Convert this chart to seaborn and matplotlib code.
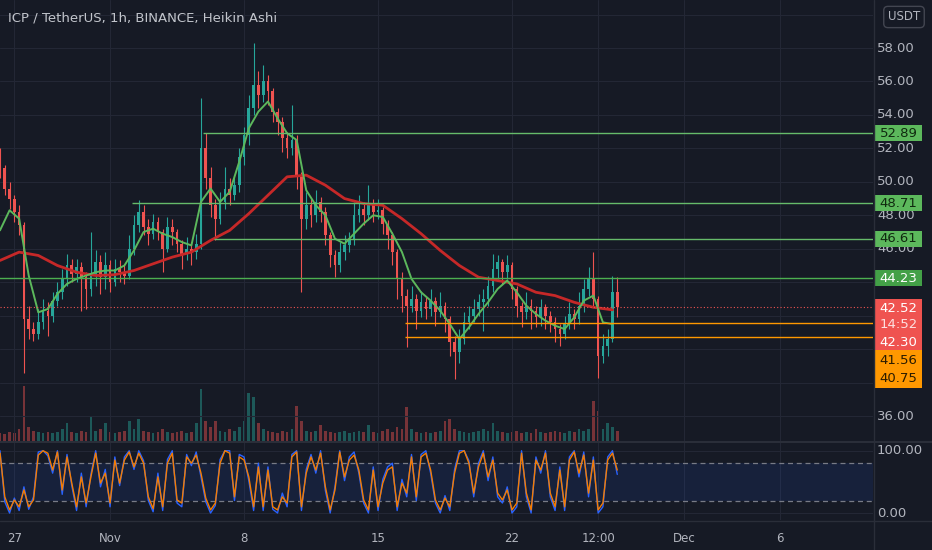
import numpy as np
import pandas as pd
import matplotlib
matplotlib.use("Agg")
import matplotlib.pyplot as plt
import matplotlib.dates as mdates
from matplotlib.patches import Rectangle
import seaborn as sns

# ICP/USDT Heikin Ashi, 6h bars
first_bar = "2021-10-26 06:00"
first_open = 51.6
close = [50.8, 49.6, 49.0, 48.2, 47.4, 41.8, 41.2, 40.9, 41.6, 42.3,
         42.0, 42.9, 43.4, 44.2, 45.0, 44.5, 44.9, 44.3, 43.6, 44.4,
         45.2, 44.3, 45.0, 44.0, 44.8, 44.6, 44.4, 46.0, 47.4, 48.2,
         47.3, 46.9, 47.6, 47.0, 46.0, 47.3, 47.0, 46.3, 45.7, 46.0,
         45.8, 46.3, 52.0, 50.2, 48.6, 47.8, 48.8, 49.6, 49.2, 49.8,
         51.5, 52.8, 54.4, 55.8, 55.2, 56.0, 55.4, 54.2, 53.6, 52.6,
         52.0, 52.5, 50.4, 47.8, 48.6, 48.0, 48.8, 48.2, 46.8, 45.6,
         45.0, 45.8, 46.2, 46.5, 48.0, 48.4, 48.0, 48.6, 48.2, 48.3,
         47.5, 46.8, 45.8, 44.2, 43.2, 42.6, 43.0, 42.3, 42.8, 42.4,
         42.9, 42.2, 42.6, 41.8, 40.4, 39.8, 40.6, 41.6, 42.0, 42.4,
         42.8, 43.0, 43.8, 44.8, 45.2, 44.6, 45.0, 43.6, 42.6, 42.2,
         42.6, 42.3, 41.9, 42.5, 42.0, 41.6, 41.2, 40.9, 41.5, 42.1,
         41.8, 42.6, 43.6, 44.2, 43.0, 39.6, 40.2, 40.6, 43.4, 42.5]
high = [52.0, 51.0, 50.0, 49.2, 48.6, 47.6, 42.6, 41.6, 42.4, 43.0,
        42.8, 43.4, 44.0, 44.8, 45.7, 45.4, 45.4, 45.2, 44.6, 47.0,
        45.9, 45.6, 45.8, 45.3, 45.4, 45.3, 45.0, 46.8, 48.0, 48.9,
        48.6, 47.8, 48.1, 47.9, 47.2, 47.9, 47.8, 47.2, 46.5, 46.7,
        46.4, 46.9, 55.0, 52.9, 50.9, 49.0, 49.4, 50.9, 50.2, 50.4,
        52.0, 53.3, 55.2, 58.3, 56.6, 57.0, 56.4, 55.6, 54.4, 53.9,
        53.0, 54.6, 52.8, 50.6, 49.4, 49.0, 49.5, 49.1, 48.5, 47.0,
        45.9, 46.4, 46.8, 47.0, 48.8, 49.2, 48.8, 49.8, 49.0, 49.0,
        48.5, 47.7, 47.0, 46.0, 44.6, 43.6, 43.8, 43.3, 43.5, 43.2,
        43.6, 43.1, 43.4, 42.8, 42.0, 40.8, 41.2, 42.2, 42.6, 43.0,
        43.3, 43.6, 44.4, 45.7, 45.6, 45.4, 45.6, 45.2, 43.8, 42.8,
        43.4, 43.0, 42.6, 43.0, 42.7, 42.3, 41.9, 41.5, 42.0, 42.8,
        42.4, 43.4, 44.2, 44.9, 45.8, 43.2, 40.9, 41.2, 44.4, 44.3]
low = [50.2, 49.2, 48.4, 47.6, 46.8, 38.6, 40.6, 40.5, 40.6, 41.2,
       40.8, 41.6, 42.6, 43.0, 43.8, 44.0, 44.0, 42.3, 42.4, 43.2,
       43.8, 43.3, 43.6, 43.4, 43.8, 44.0, 43.9, 44.2, 45.6, 47.0,
       46.8, 46.2, 46.6, 46.5, 44.6, 45.8, 46.2, 45.8, 44.8, 45.3,
       45.0, 45.4, 46.0, 49.6, 47.9, 46.5, 47.5, 48.4, 48.6, 48.9,
       49.4, 51.0, 52.2, 54.0, 54.4, 54.8, 54.6, 53.6, 52.8, 51.8,
       51.4, 51.6, 49.6, 43.4, 47.2, 47.3, 47.6, 47.6, 46.2, 44.9,
       44.3, 44.6, 45.3, 45.8, 46.2, 47.6, 47.4, 47.7, 47.6, 47.8,
       46.9, 46.0, 45.0, 43.0, 42.2, 40.1, 42.2, 41.2, 41.9, 41.8,
       42.0, 41.4, 41.9, 41.0, 39.6, 38.2, 39.2, 40.3, 41.2, 41.6,
       42.0, 41.1, 42.6, 43.4, 44.2, 43.9, 44.2, 43.0, 41.9, 41.3,
       41.8, 41.2, 41.3, 41.4, 41.2, 41.0, 40.4, 40.2, 40.6, 41.2,
       41.2, 41.5, 42.2, 43.2, 42.6, 38.3, 39.2, 39.6, 40.4, 41.9]
volume = [8, 7, 9, 8, 12, 55, 14, 10, 9, 8,
          9, 8, 9, 12, 18, 9, 8, 10, 9, 25,
          10, 12, 18, 9, 8, 9, 10, 20, 12, 22,
          10, 9, 8, 9, 12, 9, 8, 9, 10, 8,
          9, 18, 52, 20, 14, 20, 10, 9, 12, 10,
          14, 20, 48, 44, 18, 12, 10, 9, 8, 10,
          9, 12, 35, 20, 10, 9, 10, 16, 10, 9,
          8, 9, 10, 8, 9, 10, 9, 16, 9, 8,
          10, 12, 9, 14, 12, 34, 12, 9, 8, 9,
          8, 9, 10, 20, 22, 12, 10, 9, 8, 9,
          10, 12, 10, 18, 10, 9, 8, 9, 10, 8,
          9, 8, 12, 9, 8, 9, 10, 9, 8, 10,
          9, 12, 10, 12, 40, 30, 12, 18, 14, 10]
# moving averages: fast one every 2nd bar, slow one every 4th bar
ema_fast = [47.1, 48.3, 47.8, 44.4, 42.2, 42.4, 43.3, 43.9, 44.2, 44.4,
            44.6, 44.7, 44.7, 45.0, 45.9, 47.0, 47.2, 46.9, 46.7, 46.4,
            46.2, 48.8, 49.6, 48.8, 49.4, 51.2, 53.2, 54.2, 54.8, 53.8,
            52.9, 52.5, 49.5, 48.6, 48.0, 46.6, 46.3, 46.9, 47.5, 48.0,
            47.9, 46.9, 45.8, 44.2, 43.4, 42.9, 42.3, 41.5, 40.6, 41.3,
            42.1, 42.8, 43.6, 44.1, 43.4, 42.6, 42.1, 41.7, 41.4, 41.2,
            41.9, 42.9, 43.2, 41.6, 41.5]
ema_slow = [45.3, 45.8, 45.6, 45.0, 44.6, 44.4, 44.45, 44.7, 45.1, 45.5,
            45.8, 46.5, 47.1, 48.1, 49.2, 50.3, 50.4, 49.8, 49.0, 48.7,
            48.6, 47.8, 46.9, 45.9, 45.0, 44.3, 44.1, 43.9, 43.4, 43.2,
            42.8, 42.5, 42.35]
stoch_k = [100, 18, 0, 24, 4, 42, 6, 26, 98, 100, 92, 64, 100, 30, 94, 44, 4, 64, 10, 62, 100, 42,
           70, 10, 90, 44, 90, 100, 70, 100, 84, 20, 2, 64, 4, 86, 100, 16, 10, 94, 76, 98,
           58, 18, 0, 12, 86, 100, 100, 20, 94, 90, 52, 4, 80, 4, 74, 6, 0, 32, 10, 94, 100, 4, 70,
           94, 64, 100, 36, 0, 42, 100, 52, 90, 98, 64, 16, 0, 74, 4, 54, 74, 80, 4, 54,
           26, 94, 20, 94, 100, 64, 16, 0, 28, 4, 70, 100, 100, 84, 26, 80, 100, 52, 90, 26,
           16, 42, 0, 10, 100, 26, 0, 90, 64, 100, 26, 4, 74, 4, 90, 100, 58, 98, 26, 90,
           0, 10, 90, 100, 62]
stoch_d = [96, 26, 5, 21, 10, 37, 10, 21, 93, 100, 96, 69, 98, 37, 90, 48, 10, 58, 16, 58, 96, 48,
           64, 16, 85, 48, 85, 98, 74, 96, 80, 26, 7, 58, 10, 80, 96, 21, 16, 90, 80, 93,
           64, 24, 5, 16, 80, 100, 96, 26, 90, 85, 58, 10, 74, 10, 69, 10, 5, 26, 16, 90, 98, 10, 64,
           90, 69, 96, 42, 5, 37, 98, 58, 85, 93, 69, 21, 5, 69, 10, 48, 69, 74, 10, 48,
           32, 90, 26, 90, 96, 69, 21, 5, 24, 10, 64, 96, 100, 80, 32, 74, 96, 58, 85, 32,
           21, 37, 5, 16, 96, 32, 5, 85, 69, 96, 32, 10, 69, 10, 85, 98, 64, 93, 32, 85,
           5, 16, 85, 96, 69]

green_levels = [52.89, 48.71, 46.61, 44.23]
green_from = ["2021-11-05 21:00", "2021-11-02 03:00", "2021-11-06 10:00", "2021-10-25 00:00"]
orange_levels = [41.56, 40.75]
orange_from = "2021-11-16 10:00"
last_price = 42.52
slow_ma_last = 42.30
countdown = "14:52"

# scale labels that stay visible (the rest sit under the price tags)
price_ticks = [36, 46, 48, 50, 52, 54, 56, 58]
tick_dates = ["2021-10-27 00:00", "2021-11-01 00:00", "2021-11-08 00:00", "2021-11-15 00:00",
              "2021-11-22 00:00", "2021-11-26 12:00", "2021-12-01 00:00", "2021-12-06 00:00"]
tick_text = ["27", "Nov", "8", "15", "22", "12:00", "Dec", "6"]

BG = "#161a25"
GRID = "#232735"
FG = "#b2b5be"
UP, DOWN = "#26a69a", "#ef5350"

sns.set_theme(style="dark", rc={"axes.facecolor": BG, "figure.facecolor": BG,
                                "axes.edgecolor": BG, "text.color": FG})
plt.rcParams["font.family"] = ["DejaVu Sans"]

W, H = 932, 550
fig = plt.figure(figsize=(W / 100, H / 100), dpi=100)


def rect(x0, y0, x1, y1):
    return [x0 / W, 1 - y1 / H, (x1 - x0) / W, (y1 - y0) / H]


def py(y_px):
    # pixel row of the price pane -> price
    return 58 - (y_px - 48) / 16.73


vax = fig.add_axes(rect(0, 0, 873, 441))
ax = fig.add_axes(rect(0, 0, 873, 441), sharex=vax)
sax = fig.add_axes(rect(0, 442, 873, 520), sharex=vax)
rax = fig.add_axes(rect(873, 0, 932, 441))
srax = fig.add_axes(rect(873, 442, 932, 520))
ax.patch.set_alpha(0)

t = mdates.date2num(pd.date_range(first_bar, periods=len(close), freq="6h"))
close = np.array(close)
opens = np.r_[first_open, close[:-1]]
colors = np.where(close >= opens, UP, DOWN)

x0 = mdates.date2num(pd.Timestamp(first_bar))
x1 = mdates.date2num(pd.Timestamp("2021-12-10 20:40"))
ticks = mdates.date2num(pd.to_datetime(tick_dates, format="%Y-%m-%d %H:%M"))

# volume underlay
vax.bar(t, volume, width=0.14, color=colors, alpha=0.45, linewidth=0)
vax.set_ylim(0, 441)

# grid
for p in range(36, 62, 2):
    ax.axhline(p, color=GRID, lw=0.8, zorder=0)
for d in ticks:
    ax.axvline(d, color=GRID, lw=0.8, zorder=0)
    sax.axvline(d, color=GRID, lw=0.8, zorder=0)
sax.axhline(100, color=GRID, lw=0.8, zorder=0)
sax.axhline(0, color=GRID, lw=0.8, zorder=0)

# candles
ax.vlines(t, low, high, colors=colors, lw=0.8, zorder=2)
ax.bar(t, close - opens, bottom=opens, width=0.14, color=colors, linewidth=0, zorder=2)

# moving averages
sns.lineplot(x=t[::4], y=ema_slow, ax=ax, color="#c62828", lw=2.0, zorder=3)
sns.lineplot(x=t[::2], y=ema_fast, ax=ax, color="#5cb85c", lw=1.4, zorder=3)

# drawn levels
for lvl, start in zip(green_levels, green_from):
    c = "#4caf50" if lvl == 44.23 else "#66bb6a"
    ax.hlines(lvl, mdates.date2num(pd.Timestamp(start)), x1, color=c, lw=1.0, zorder=4)
for lvl in orange_levels:
    ax.hlines(lvl, mdates.date2num(pd.Timestamp(orange_from)), x1, color="#ff9800", lw=1.0, zorder=4)
ax.axhline(last_price, color=DOWN, lw=0.8, ls=(0, (1, 2)), zorder=4)

ax.set_ylim(py(441), py(0))
ax.set_xlim(x0, x1)

# stoch RSI pane
sax.axhspan(20, 80, color="#2962ff", alpha=0.1, lw=0)
sax.axhline(80, color="#787b86", lw=0.9, ls=(0, (4, 3)))
sax.axhline(20, color="#787b86", lw=0.9, ls=(0, (4, 3)))
sns.lineplot(x=t, y=stoch_k, ax=sax, color="#2962ff", lw=1.0)
sns.lineplot(x=t, y=stoch_d, ax=sax, color="#f57c00", lw=1.0)
sax.set_ylim(-11.2, 114)

for a in (vax, ax, sax):
    a.set_yticks([])
    a.set_ylabel("")
    a.set_xlabel("")
    for s in a.spines.values():
        s.set_visible(False)
vax.tick_params(axis="x", length=0, labelbottom=False)
ax.tick_params(axis="x", length=0, labelbottom=False)
sax.set_xticks(ticks)
sax.set_xticklabels(tick_text)
sax.tick_params(axis="x", length=0, pad=9, labelsize=8.5, labelcolor=FG)
sax.set_xlim(x0, x1)

# right price scale
rax.set_xlim(0, 59)
rax.set_ylim(ax.get_ylim())
rax.axis("off")
for p in price_ticks:
    rax.text(4, p, f"{p:.2f}", va="center", ha="left", fontsize=9.5, color=FG)

box_h = 16 / 16.73


def tag(y, text, fc, tc, weight="normal"):
    rax.add_patch(Rectangle((2, y - box_h / 2), 47, box_h, fc=fc, ec="none", zorder=5))
    rax.text(25.5, y, text, ha="center", va="center", fontsize=9.5, color=tc,
             weight=weight, zorder=6)


for lvl in green_levels[:3]:
    tag(lvl, f"{lvl:.2f}", "#5cb85c", "#10290f")
tag(green_levels[3], f"{green_levels[3]:.2f}", "#43a047", "white")

rax.add_patch(Rectangle((2, py(350)), 47, py(299) - py(350), fc="#ef5350", ec="none", zorder=5))
rax.text(25.5, py(308), f"{last_price:.2f}", ha="center", va="center", fontsize=9.5, color="white", zorder=6)
rax.text(25.5, py(325), countdown, ha="center", va="center", fontsize=9.5, color="#fde0e0", zorder=6)
rax.text(25.5, py(342), f"{slow_ma_last:.2f}", ha="center", va="center", fontsize=9.5, color="white", zorder=6)
rax.add_patch(Rectangle((2, py(388)), 47, py(350) - py(388), fc="#ff9800", ec="none", zorder=5))
rax.text(25.5, py(361), f"{orange_levels[0]:.2f}", ha="center", va="center", fontsize=9.5, color="#2a1c00", zorder=6)
rax.text(25.5, py(378), f"{orange_levels[1]:.2f}", ha="center", va="center", fontsize=9.5, color="#2a1c00", zorder=6)

rax.text(31, py(17), "USDT", ha="center", va="center", fontsize=8.5, color=FG,
         bbox=dict(boxstyle="round,pad=0.35", fc=BG, ec="#434651", lw=1))

srax.set_xlim(0, 59)
srax.set_ylim(sax.get_ylim())
srax.axis("off")
srax.text(4, 100, "100.00", va="center", ha="left", fontsize=9.5, color=FG)
srax.text(4, 0, "0.00", va="center", ha="left", fontsize=9.5, color=FG)

# pane separators
line_c = "#2a2e39"
fig.add_artist(plt.Line2D([0, 1], [1 - 441.5 / H] * 2, transform=fig.transFigure, color=line_c, lw=1.5))
fig.add_artist(plt.Line2D([0, 1], [1 - 520.5 / H] * 2, transform=fig.transFigure, color=line_c, lw=1.0))
fig.add_artist(plt.Line2D([873.5 / W] * 2, [1, 1 - 550 / H], transform=fig.transFigure, color=line_c, lw=1.0))

fig.text(8 / W, 1 - 18 / H, "ICP / TetherUS, 1h, BINANCE, Heikin Ashi", fontsize=9.5,
         color="#c2c5cc", va="center", ha="left")

fig.savefig("out.png", dpi=100, facecolor=BG)
